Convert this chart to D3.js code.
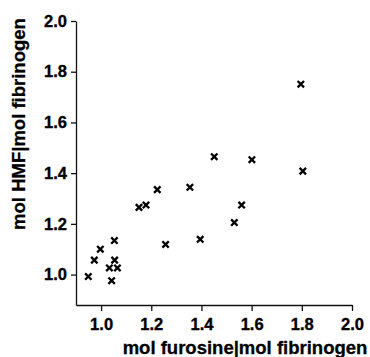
<!DOCTYPE html>
<html><head><meta charset="utf-8">
<script src="https://cdn.jsdelivr.net/npm/d3@7"></script>
<style>
html,body{margin:0;padding:0;background:#fff;}
svg{display:block;}
.tick text{font-family:"Liberation Sans",Arial,sans-serif;font-weight:bold;font-size:16.5px;fill:#000;stroke:#000;stroke-width:0.35px;}
.title{font-family:"Liberation Sans",Arial,sans-serif;font-weight:bold;font-size:18.5px;fill:#000;stroke:#000;stroke-width:0.3px;}
</style></head>
<body>
<script>
const furosine = [0.949,0.973,0.997,1.033,1.065,1.042,1.054,1.053,1.151,1.179,1.224,1.257,1.354,1.395,1.451,1.531,1.560,1.601,1.796,1.804];
const hmf      = [0.992,1.057,1.100,1.026,1.026,0.976,1.057,1.134,1.265,1.274,1.335,1.119,1.344,1.139,1.465,1.205,1.274,1.453,1.751,1.408];
const xTicks = [1.0,1.2,1.4,1.6,1.8,2.0];
const yTicks = [1.0,1.2,1.4,1.6,1.8,2.0];
const xTitle = "mol furosine|mol fibrinogen";
const yTitle = "mol HMF|mol fibrinogen";

const W = 370, H = 357;
const svg = d3.select("body").append("svg").attr("width", W).attr("height", H);
const x = d3.scaleLinear().domain([0.9, 2.0]).range([76, 352]);
const y = d3.scaleLinear().domain([0.88, 2.0]).range([305, 21]);

const xAxis = d3.axisBottom(x).tickValues(xTicks).tickFormat(d3.format(".1f")).tickSize(6).tickPadding(5).tickSizeOuter(0);
const yAxis = d3.axisLeft(y).tickValues(yTicks).tickFormat(d3.format(".1f")).tickSize(5).tickPadding(4).tickSizeOuter(0);

const gx = svg.append("g").attr("transform", "translate(0,305)").call(xAxis);
const gy = svg.append("g").attr("transform", "translate(76,0)").call(yAxis);
[gx, gy].forEach(g => {
  g.select(".domain").attr("stroke", "#111").attr("stroke-width", 1.3);
  g.selectAll(".tick line").attr("stroke", "#111").attr("stroke-width", 1.3);
  g.selectAll(".tick text").attr("font-size", null).attr("font-family", null);
});
gx.selectAll(".tick text").attr("dy", "0.85em");

const pts = furosine.map((v, i) => [v, hmf[i]]);
const s = 3.2;
svg.append("g").selectAll("path").data(pts).join("path")
  .attr("d", d => {
    const cx = x(d[0]), cy = y(d[1]);
    return `M${cx-s},${cy-s}L${cx+s},${cy+s}M${cx-s},${cy+s}L${cx+s},${cy-s}`;
  })
  .attr("stroke", "#000").attr("stroke-width", 2.3).attr("fill", "none");

svg.append("text").attr("class", "title")
  .attr("x", 245).attr("y", 354).attr("text-anchor", "middle").text(xTitle);
svg.append("text").attr("class", "title")
  .attr("transform", "translate(25,124) rotate(-90)").attr("text-anchor", "middle").text(yTitle);
</script>
</body></html>
